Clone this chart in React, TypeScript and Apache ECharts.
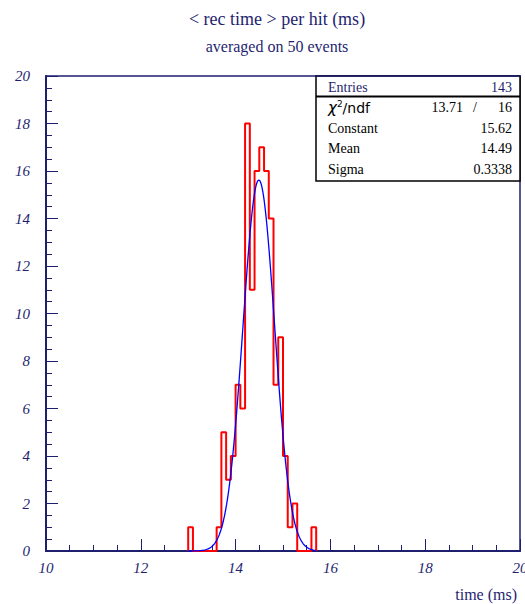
import React, { useEffect, useRef } from "react";
import * as echarts from "echarts";

// Histogram of the mean reconstruction time per hit, 0.1 ms bins
const X_MIN = 10;
const X_MAX = 20;
const Y_MIN = 0;
const Y_MAX = 20;
const TICK_STEP = 2;
const BIN_START = 13.0;
const BIN_WIDTH = 0.1;
// bin contents from 13.0 ms up to 15.7 ms (all other bins are empty)
const binCounts = [1, 0, 0, 0, 0, 0, 1, 5, 3, 4, 7, 6, 18, 11, 16, 17, 16, 14, 7, 9, 4, 1, 2, 0, 0, 0, 1];

// Gaussian fit results
const fitConstant = 15.62;
const fitMean = 14.49;
const fitSigma = 0.3338;
const fitRange = [13.0, 15.7];
const fitStep = 0.01;

// statistics box
const entries = 143;
const chi2 = "13.71";
const ndf = "16";
const statRows = ["Constant", "Mean", "Sigma"];
const statValues = ["15.62", "14.49", "0.3338"];

const TITLE = "< rec time > per hit (ms)";
const SUBTITLE = "averaged on 50 events";
const X_NAME = "time (ms)";

const NAVY = "#1f1f70";
const SERIF = "'Liberation Serif', 'Times New Roman', serif";

const round3 = (v: number) => Math.round(v * 1000) / 1000;

function histogramOutline(): number[][] {
  const pts: number[][] = [[BIN_START, 0]];
  binCounts.forEach((c, i) => pts.push([round3(BIN_START + i * BIN_WIDTH), c]));
  pts.push([round3(BIN_START + binCounts.length * BIN_WIDTH), 0]);
  return pts;
}

function fitCurve(): number[][] {
  const pts: number[][] = [];
  const n = Math.round((fitRange[1] - fitRange[0]) / fitStep);
  for (let i = 0; i <= n; i++) {
    const x = round3(fitRange[0] + i * fitStep);
    const z = (x - fitMean) / fitSigma;
    pts.push([x, fitConstant * Math.exp(-0.5 * z * z)]);
  }
  return pts;
}

export default function App() {
  const ref = useRef<HTMLDivElement>(null);

  useEffect(() => {
    if (!ref.current) return;
    const chart = echarts.init(ref.current, null, { renderer: "svg" });

    const gridLeft = 46;
    const gridRight = 5;
    const gridTop = 76;
    const gridBottom = 53;

    const boxX = 316;
    const boxY = 76;
    const boxW = 204;
    const boxH = 105;
    const textL = 328;
    const textR = 512;
    const rowY = [87, 107.5, 128, 148.5, 169];

    const statText = (txt: string, x: number, y: number, align: string, color = "#000") => ({
      type: "text",
      x,
      y,
      z: 102,
      style: {
        text: txt,
        fill: color,
        font: `14px ${SERIF}`,
        align,
        verticalAlign: "middle",
      },
    });

    const graphics: any[] = [
      {
        type: "text",
        x: 277,
        y: 19,
        style: { text: TITLE, fill: NAVY, font: `18px ${SERIF}`, align: "center", verticalAlign: "middle" },
      },
      {
        type: "text",
        x: 277,
        y: 46,
        style: { text: SUBTITLE, fill: NAVY, font: `16px ${SERIF}`, align: "center", verticalAlign: "middle" },
      },
      {
        type: "text",
        x: 517,
        y: 594,
        style: { text: X_NAME, fill: NAVY, font: `16px ${SERIF}`, align: "right", verticalAlign: "middle" },
      },
      {
        type: "rect",
        z: 100,
        shape: { x: boxX, y: boxY, width: boxW, height: boxH },
        style: { fill: "#fff", stroke: "#000", lineWidth: 1.5 },
      },
      {
        type: "line",
        z: 101,
        shape: { x1: boxX, y1: 96.5, x2: boxX + boxW, y2: 96.5 },
        style: { stroke: "#000", lineWidth: 2 },
      },
      {
        type: "line",
        z: 101,
        shape: { x1: boxX, y1: boxY, x2: boxX + boxW, y2: boxY },
        style: { stroke: NAVY, lineWidth: 1.5 },
      },
      statText("Entries", textL, rowY[0], "left", NAVY),
      statText(String(entries), textR, rowY[0], "right", NAVY),
      {
        type: "text",
        x: textL,
        y: rowY[1],
        z: 102,
        style: {
          text: "{chi|χ}{sup|2}{ndf|/ndf}",
          align: "left",
          verticalAlign: "middle",
          rich: {
            chi: { fontFamily: "'DejaVu Sans', sans-serif", fontSize: 15, fontStyle: "italic", fill: "#000" },
            sup: { fontFamily: "'DejaVu Sans', sans-serif", fontSize: 9, fill: "#000", verticalAlign: "top", padding: [0, 0, 8, 0] },
            ndf: { fontFamily: "'DejaVu Sans', sans-serif", fontSize: 14, fill: "#000" },
          },
        },
      },
      statText(chi2, 463, rowY[1], "right"),
      statText("/", 475, rowY[1], "center"),
      statText(ndf, textR, rowY[1], "right"),
    ];
    statRows.forEach((name, i) => {
      graphics.push(statText(name, textL, rowY[i + 2], "left"));
      graphics.push(statText(statValues[i], textR, rowY[i + 2], "right"));
    });

    const axisCommon = {
      type: "value",
      interval: TICK_STEP,
      axisLine: { show: true, lineStyle: { color: NAVY, width: 2 } },
      axisTick: { show: true, inside: true, length: 12, lineStyle: { color: NAVY, width: 1 } },
      minorTick: { show: true, splitNumber: 4, length: 6, lineStyle: { color: NAVY, width: 1 } },
      splitLine: { show: false },
      axisLabel: {
        color: NAVY,
        fontFamily: SERIF,
        fontStyle: "italic",
        fontSize: 15,
      },
    };

    chart.setOption({
      animation: false,
      backgroundColor: "#fff",
      grid: {
        left: gridLeft,
        right: gridRight,
        top: gridTop,
        bottom: gridBottom,
        show: true,
        borderColor: NAVY,
        borderWidth: 1.5,
        backgroundColor: "transparent",
        containLabel: false,
        outerBoundsMode: "none",
      },
      xAxis: {
        ...axisCommon,
        min: X_MIN,
        max: X_MAX,
        axisLabel: { ...axisCommon.axisLabel, margin: 9 },
      },
      yAxis: {
        ...axisCommon,
        min: Y_MIN,
        max: Y_MAX,
        axisLabel: { ...axisCommon.axisLabel, margin: 16 },
      },
      series: [
        {
          type: "line",
          name: "histogram",
          step: "end",
          data: histogramOutline(),
          showSymbol: false,
          lineStyle: { color: "#ff0000", width: 2 },
          z: 3,
        },
        {
          type: "line",
          name: "gaus fit",
          data: fitCurve(),
          showSymbol: false,
          smooth: false,
          lineStyle: { color: "#0000ff", width: 1.3 },
          z: 4,
        },
      ],
      graphic: graphics,
    });

    return () => chart.dispose();
  }, []);

  return (
    <div
      ref={ref}
      style={{ position: "fixed", left: 0, top: 0, width: 525, height: 604 }}
    />
  );
}
